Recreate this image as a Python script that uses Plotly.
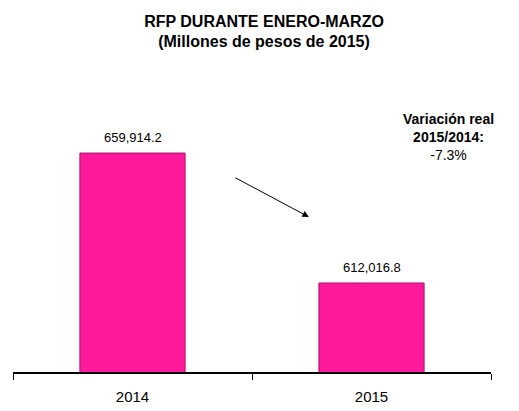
import plotly.graph_objects as go

years = ["2014", "2015"]
rfp = [659914.2, 612016.8]
variacion = -7.3

fig = go.Figure()

fig.add_trace(go.Bar(
    x=years, y=rfp,
    marker=dict(color="#ff1a9c", line=dict(color="#a8106a", width=1)),
    width=0.44,
    hoverinfo="skip",
))

# etiquetas de valor sobre cada barra (x = índice de categoría)
for i, v in enumerate(rfp):
    fig.add_annotation(
        x=i, y=v, text=f"{v:,.1f}", showarrow=False,
        yanchor="bottom", yshift=6,
        font=dict(family="Arial, Liberation Sans", size=13, color="#000000"),
    )

fig.add_annotation(
    xref="paper", yref="paper", x=0.619, y=0.572,
    ax=-75, ay=-40, text="", showarrow=True,
    arrowhead=2, arrowsize=1.3, arrowwidth=1, arrowcolor="#000000",
)

fig.add_annotation(
    xref="paper", yref="paper", x=0.912, y=0.867,
    xanchor="center", yanchor="middle",
    text=f"<b>Variación real<br>2015/2014:</b><br>{variacion:.1f}%",
    showarrow=False, align="center",
    font=dict(family="Arial, Liberation Sans", size=14, color="#000000"),
)

fig.update_layout(
    width=511, height=403,
    margin=dict(l=5, r=28, t=93, b=39),
    paper_bgcolor="white", plot_bgcolor="white",
    showlegend=False,
    title=dict(
        text="<b>RFP DURANTE ENERO-MARZO<br>(Millones de pesos de 2015)</b>",
        x=0.501, xanchor="center", y=0.954, yanchor="top",
        font=dict(family="Arial, Liberation Sans", size=16, color="#000000"),
    ),
    xaxis=dict(
        type="category", automargin=False,
        showline=True, linecolor="#000000", linewidth=1.5,
        ticks="outside", tickson="boundaries", ticklen=6, tickcolor="#000000",
        ticklabelstandoff=10,
        tickfont=dict(family="Arial, Liberation Sans", size=15, color="#000000"),
        showgrid=False,
    ),
    yaxis=dict(range=[579200, 679100], visible=False, showgrid=False),
)

fig.write_html("out.html")
